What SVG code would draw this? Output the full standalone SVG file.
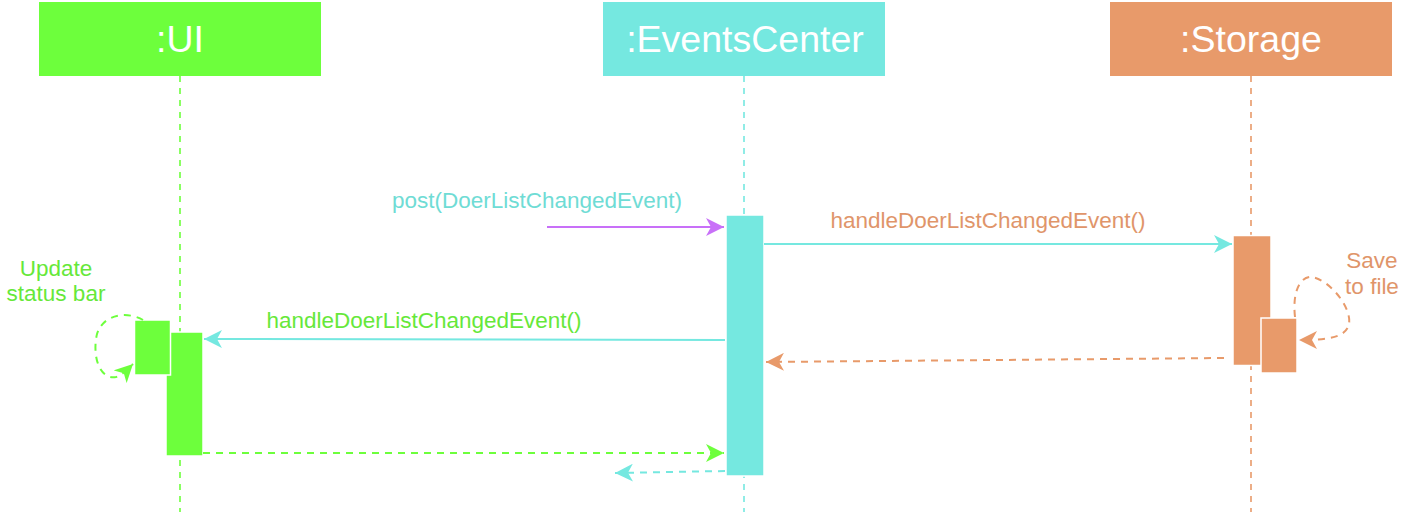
<svg xmlns="http://www.w3.org/2000/svg" width="1414" height="514" viewBox="0 0 1414 514">
<style>
.hdr{font-family:"Liberation Sans",Arial,sans-serif;font-size:37.5px;fill:#ffffff;text-anchor:middle}
.lbl{font-family:"Liberation Sans",Arial,sans-serif;font-size:22.5px;text-anchor:middle}
.life{fill:none;stroke-width:1.6;stroke-dasharray:6 6}
.bar{stroke:#ffffff;stroke-width:1.5}
.msg{fill:none;stroke-width:2}
.dash{stroke-dasharray:7 6}
.g{fill:#6dff3c}.t{fill:#75e8e0}.o{fill:#e89a6a}
.gs{stroke:#6dff3c}.ts{stroke:#75e8e0}.os{stroke:#e89a6a}.ps{stroke:#c870f8}
</style>
<defs>
<marker id="ap" markerUnits="userSpaceOnUse" markerWidth="20" markerHeight="18" refX="18" refY="9" orient="auto"><path d="M0,0 L18,9 L0,18 L5,9 z" fill="#c870f8"/></marker>
<marker id="at" markerUnits="userSpaceOnUse" markerWidth="20" markerHeight="18" refX="18" refY="9" orient="auto"><path d="M0,0 L18,9 L0,18 L5,9 z" fill="#75e8e0"/></marker>
<marker id="ao" markerUnits="userSpaceOnUse" markerWidth="20" markerHeight="18" refX="18" refY="9" orient="auto"><path d="M0,0 L18,9 L0,18 L5,9 z" fill="#e89a6a"/></marker>
<marker id="ag" markerUnits="userSpaceOnUse" markerWidth="20" markerHeight="18" refX="18" refY="9" orient="auto"><path d="M0,0 L18,9 L0,18 L5,9 z" fill="#6dff3c"/></marker>
</defs>

<g id="ui">
<rect x="39" y="2" width="282" height="74" class="g"/>
<text x="180" y="52" class="hdr">:UI</text>
<line x1="180" y1="76" x2="180" y2="512" class="life gs"/>
<rect x="166" y="332" width="37" height="124" class="g bar"/>
<rect x="134.5" y="320" width="36" height="55" class="g bar"/>
</g>

<g id="eventscenter">
<rect x="603" y="2" width="282" height="74" class="t"/>
<text x="745" y="52" class="hdr">:EventsCenter</text>
<line x1="744" y1="76" x2="744" y2="512" class="life ts"/>
<rect x="726" y="215" width="38" height="261" class="t bar"/>
</g>

<g id="storage">
<rect x="1110" y="2" width="282" height="74" class="o"/>
<text x="1251" y="52" class="hdr">:Storage</text>
<line x1="1251" y1="76" x2="1251" y2="512" class="life os"/>
<rect x="1233" y="235.5" width="38" height="130" class="o bar"/>
<rect x="1261" y="318" width="36" height="55" class="o bar"/>
</g>

<g id="connectors">
<line x1="547" y1="227" x2="724" y2="227" class="msg ps" marker-end="url(#ap)"/>
<text x="537" y="208" class="lbl" fill="#6fdcd5">post(DoerListChangedEvent)</text>

<line x1="764" y1="244" x2="1232" y2="244" class="msg ts" marker-end="url(#at)"/>
<text x="988" y="228" class="lbl" fill="#e0956a">handleDoerListChangedEvent()</text>

<path d="M1295,317 C1292,290 1301,276 1312,277 C1330,280 1352,308 1349,324 C1346,337 1330,340 1299,340" class="msg os dash" marker-end="url(#ao)"/>
<text x="1372" y="268" class="lbl" fill="#e0956a">Save</text>
<text x="1372" y="294" class="lbl" fill="#e0956a">to file</text>

<line x1="1224" y1="358" x2="766" y2="362" class="msg os dash" marker-end="url(#ao)"/>

<line x1="725" y1="340" x2="204" y2="339" class="msg ts" marker-end="url(#at)"/>
<text x="424" y="328" class="lbl" fill="#66e83a">handleDoerListChangedEvent()</text>

<path d="M143,320 C130,312 104,312 97,334 C92,355 99,380 116,377 C122,375 127,370 133,364" class="msg gs dash" marker-end="url(#ag)"/>
<text x="56" y="276" class="lbl" fill="#66e83a">Update</text>
<text x="56" y="301" class="lbl" fill="#66e83a">status bar</text>

<line x1="203" y1="453" x2="724" y2="453" class="msg gs dash" marker-end="url(#ag)"/>
<line x1="725" y1="471" x2="615" y2="473" class="msg ts dash" marker-end="url(#at)"/>
</g>
</svg>
